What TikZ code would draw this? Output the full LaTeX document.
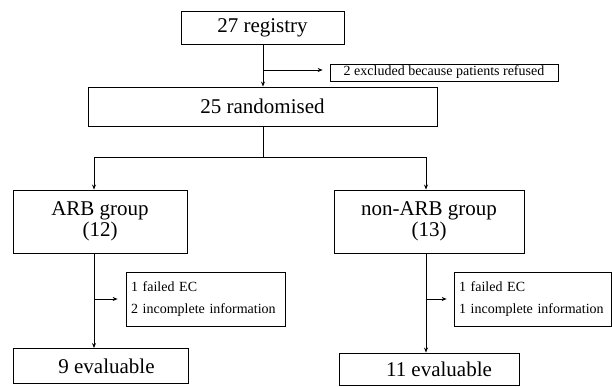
\documentclass[tikz,border=0pt]{standalone}
\usepackage{fontspec}
\setmainfont{Liberation Serif}
\usetikzlibrary{arrows.meta,calc}
\begin{document}
\begin{tikzpicture}[x=1pt,y=-1pt,
  bigbox/.style={draw=black, line width=0.9pt, inner sep=0pt, font=\fontsize{21}{21}\selectfont, align=center},
  smallbox/.style={draw=black, line width=0.7pt, inner xsep=5pt, inner ysep=0pt, font=\fontsize{14}{22}\selectfont, align=left},
  link/.style={line width=0.9pt},
  arr/.style={line width=0.9pt, -{Stealth[length=5pt,width=4pt]}}]
\useasboundingbox (0,0) rectangle (612,386);

% main boxes
\node[bigbox, minimum width=163pt, minimum height=33pt] (reg) at (262.5,27.5) {27 registry};
\node[bigbox, minimum width=349pt, minimum height=39pt] (rand) at (262.5,106.5) {25 randomised};
\node[bigbox, minimum width=174pt, minimum height=63pt] (arb) at (100,221.5) {ARB group\\(12)};
\node[bigbox, minimum width=190pt, minimum height=63pt] (narb) at (429,221.5) {non-ARB group\\(13)};
\node[bigbox, minimum width=175pt, minimum height=35pt] (ev1) at (100.5,366) {\hspace*{12pt}9 evaluable};
\node[bigbox, minimum width=180pt, minimum height=32pt] (ev2) at (429,369) {\hspace*{20pt}11 evaluable};

% side boxes
\node[smallbox, minimum width=228pt, minimum height=17pt] (excl) at (444,72.5) {2 excluded because patients refused};
\node[smallbox, text width=149pt, minimum height=54pt] (f1) at (205.5,299) {1 failed EC\\2 incomplete information};
\node[smallbox, text width=147pt, minimum height=54pt] (f2) at (532.5,299) {1 failed EC\\1 incomplete information};

% connectors
\coordinate (b0) at (263,70);
\draw[arr] (reg.south -| b0) -- (rand.north -| b0);
\draw[arr, shorten >=7pt] (b0) -- (b0 -| excl.west);

\coordinate (split) at (263,157);
\coordinate (ls) at (94,157);
\coordinate (rs) at (426,157);
\draw[link] (rand.south -| split) -- (split);
\draw[arr] (split) -- (ls) -- (ls |- arb.north);
\draw[arr] (split) -- (rs) -- (rs |- narb.north);

\coordinate (lb) at (94,299);
\coordinate (rb) at (426,299);
\draw[arr] (ls |- arb.south) -- (ls |- ev1.north);
\draw[arr, shorten >=8pt] (lb) -- (lb -| f1.west);
\draw[arr] (rs |- narb.south) -- (rs |- ev2.north);
\draw[arr, shorten >=7pt] (rb) -- (rb -| f2.west);
\end{tikzpicture}
\end{document}
